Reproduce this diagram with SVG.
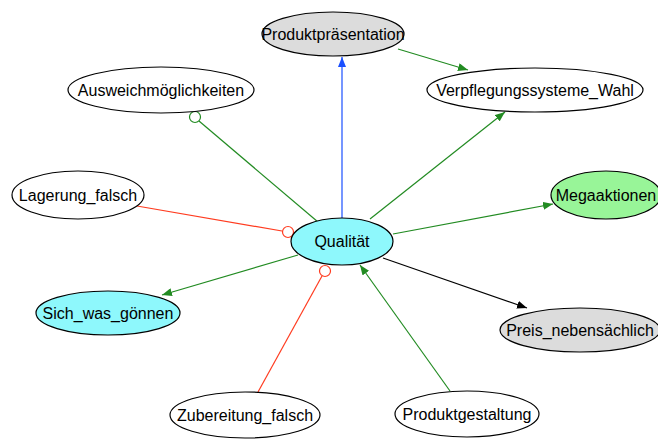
<svg xmlns="http://www.w3.org/2000/svg" width="658" height="439" viewBox="0 0 658 439">
<style>
.n{stroke:#000;stroke-width:1.2}
.t{font-family:"Liberation Sans",Arial,sans-serif;font-size:16px;fill:#000;text-anchor:middle;dominant-baseline:central}
.e{fill:none;stroke-width:1.2}
</style>
<defs>
<marker id="ag" viewBox="0 0 10 8" refX="10" refY="4" markerWidth="10" markerHeight="8" markerUnits="userSpaceOnUse" orient="auto"><path d="M0,0L10,4L0,8z" fill="#228b22"/></marker>
<marker id="ab" viewBox="0 0 10 8" refX="10" refY="4" markerWidth="10" markerHeight="8" markerUnits="userSpaceOnUse" orient="auto"><path d="M0,0L10,4L0,8z" fill="#1a4fff"/></marker>
<marker id="ak" viewBox="0 0 10 8" refX="10" refY="4" markerWidth="10" markerHeight="8" markerUnits="userSpaceOnUse" orient="auto"><path d="M0,0L10,4L0,8z" fill="#000"/></marker>
</defs>
<rect width="658" height="439" fill="#fff"/>
<g id="edges">
<path class="e" stroke="#1a4fff" d="M342,218L342,57" marker-end="url(#ab)"/>
<path class="e" stroke="#228b22" d="M398,49L468,70" marker-end="url(#ag)"/>
<path class="e" stroke="#228b22" d="M370,219L505,112" marker-end="url(#ag)"/>
<path class="e" stroke="#228b22" d="M318,222L199,121"/>
<circle cx="195" cy="117" r="5.5" fill="#fff" stroke="#228b22" stroke-width="1.2"/>
<path class="e" stroke="#ff3b1f" d="M137,206L282,231"/>
<circle cx="288" cy="232" r="5.5" fill="#fff" stroke="#ff3b1f" stroke-width="1.2"/>
<path class="e" stroke="#228b22" d="M393,234L553,204" marker-end="url(#ag)"/>
<path class="e" stroke="#228b22" d="M298,255L162,295" marker-end="url(#ag)"/>
<path class="e" stroke="#000" d="M383,258L527,308" marker-end="url(#ak)"/>
<path class="e" stroke="#ff3b1f" d="M258,392L322,276"/>
<circle cx="325" cy="271" r="5.5" fill="#fff" stroke="#ff3b1f" stroke-width="1.2"/>
<path class="e" stroke="#228b22" d="M450,391L360,265" marker-end="url(#ag)"/>
</g>
<g id="n_produktpraesentation"><ellipse class="n" cx="333" cy="34" rx="71" ry="22" fill="#dcdcdc"/><text class="t" x="333" y="34">Produktpräsentation</text></g>
<g id="n_verpflegung"><ellipse class="n" cx="535" cy="90" rx="108" ry="22" fill="#fff"/><text class="t" x="535" y="90">Verpflegungssysteme_Wahl</text></g>
<g id="n_ausweich"><ellipse class="n" cx="161" cy="90" rx="93" ry="23" fill="#fff"/><text class="t" x="161" y="90">Ausweichmöglichkeiten</text></g>
<g id="n_lagerung"><ellipse class="n" cx="78" cy="195" rx="66" ry="24" fill="#fff"/><text class="t" x="78" y="195">Lagerung_falsch</text></g>
<g id="n_mega"><ellipse class="n" cx="606" cy="195" rx="55" ry="24" fill="#98f598"/><text class="t" x="606" y="195">Megaaktionen</text></g>
<g id="n_qualitaet"><ellipse class="n" cx="342" cy="241.5" rx="51" ry="23.5" fill="#8ef8fc"/><text class="t" x="342" y="241.5">Qualität</text></g>
<g id="n_sich"><ellipse class="n" cx="108" cy="313" rx="72" ry="22" fill="#8ef8fc"/><text class="t" x="108" y="313">Sich_was_gönnen</text></g>
<g id="n_preis"><ellipse class="n" cx="580" cy="330" rx="80" ry="22" fill="#dcdcdc"/><text class="t" x="580" y="330">Preis_nebensächlich</text></g>
<g id="n_zubereitung"><ellipse class="n" cx="245" cy="415" rx="75" ry="23" fill="#fff"/><text class="t" x="245" y="415">Zubereitung_falsch</text></g>
<g id="n_produktgestaltung"><ellipse class="n" cx="467" cy="414" rx="72" ry="23" fill="#fff"/><text class="t" x="467" y="414">Produktgestaltung</text></g>
</svg>
